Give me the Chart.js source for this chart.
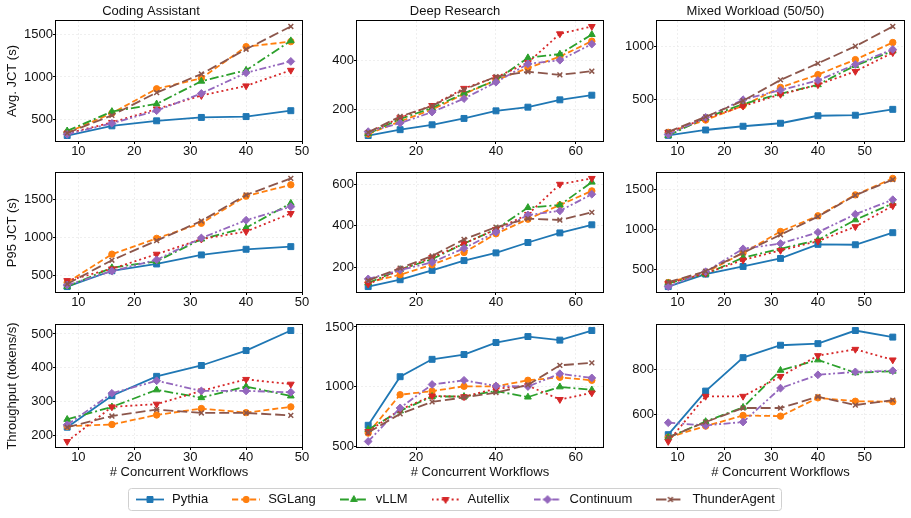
<!DOCTYPE html>
<html lang="en">
<head>
<meta charset="UTF-8">
<title>JCT and throughput vs. concurrent workflows</title>
<style>
  html, body { margin: 0; padding: 0; background: #fff; overflow: hidden; }
  body { width: 911px; height: 518px; position: relative; }
  canvas { position: absolute; display: block; }
</style>
</head>
<body>

<script src="https://cdn.jsdelivr.net/npm/chart.js"></script>
<script>
  // series, in the order they are listed in the legend
  const SERIES = ['Pythia', 'SGLang', 'vLLM', 'Autellix', 'Continuum', 'ThunderAgent'];
  const COLUMNS = ['Coding Assistant', 'Deep Research', 'Mixed Workload (50/50)'];
  const ROW_LABELS = ['Avg. JCT (s)', 'P95 JCT (s)', 'Throughput (tokens/s)'];
  const X_LABEL = '# Concurrent Workflows';

  // concurrent workflows per column
  const X_CODING = [8, 16, 24, 32, 40, 48];
  const X_DEEP = [8, 16, 24, 32, 40, 48, 56, 64];
  const X_MIXED = [8, 16, 24, 32, 40, 48, 56];

  // rows below follow SERIES order
  const AVG_CODING = [
    [305, 420, 480, 520, 530, 600],
    [340, 570, 860, 985, 1360, 1420],
    [360, 590, 680, 950, 1080, 1430],
    [330, 460, 620, 780, 895, 1080],
    [320, 450, 600, 805, 1050, 1185],
    [335, 545, 815, 1035, 1330, 1600]
  ];
  const AVG_DEEP = [
    [92, 116, 136, 162, 193, 208, 238, 257],
    [98, 150, 198, 262, 318, 368, 415, 478],
    [100, 160, 205, 265, 318, 410, 425, 505],
    [103, 165, 215, 285, 330, 390, 508, 538],
    [108, 143, 188, 243, 310, 385, 400, 466],
    [105, 170, 213, 280, 333, 353, 340, 355]
  ];
  const AVG_MIXED = [
    [167, 217, 252, 280, 350, 355, 410],
    [195, 310, 445, 615, 735, 875, 1035],
    [165, 330, 460, 555, 640, 820, 955],
    [195, 325, 440, 550, 640, 765, 940],
    [175, 335, 500, 590, 680, 830, 970],
    [200, 340, 490, 685, 840, 1000, 1185]
  ];
  const P95_CODING = [
    [350, 560, 650, 770, 845, 880],
    [405, 780, 990, 1190, 1550, 1700],
    [350, 600, 685, 980, 1130, 1455],
    [430, 585, 780, 980, 1080, 1320],
    [370, 555, 705, 995, 1230, 1410],
    [385, 700, 960, 1220, 1565, 1785]
  ];
  const P95_DEEP = [
    [108, 141, 186, 233, 270, 320, 366, 405],
    [128, 165, 213, 272, 362, 432, 500, 568],
    [125, 190, 240, 315, 383, 488, 500, 610],
    [120, 188, 248, 315, 383, 455, 600, 628],
    [145, 187, 225, 292, 370, 452, 472, 552],
    [137, 197, 255, 335, 394, 435, 428, 465]
  ];
  const P95_MIXED = [
    [290, 445, 540, 640, 815, 810, 960],
    [340, 465, 710, 975, 1170, 1430, 1635],
    [330, 445, 650, 760, 870, 1120, 1325],
    [330, 455, 620, 740, 855, 1035, 1295],
    [290, 475, 760, 825, 965, 1190, 1370],
    [345, 480, 710, 935, 1160, 1425, 1620]
  ];
  const THR_CODING = [
    [225, 318, 375, 407, 451, 510],
    [228, 233, 261, 280, 268, 285],
    [248, 285, 335, 312, 345, 317],
    [183, 285, 293, 332, 366, 352],
    [232, 325, 362, 332, 332, 328],
    [225, 258, 277, 267, 267, 260]
  ];
  const THR_DEEP = [
    [680, 1085, 1230, 1270, 1370, 1420, 1390, 1470],
    [615, 935, 965, 1005, 1005, 1055, 1080, 1055],
    [645, 800, 920, 920, 965, 915, 1000, 975],
    [628, 810, 925, 918, 985, 1010, 895, 950],
    [545, 825, 1020, 1055, 1008, 1003, 1110, 1075],
    [620, 775, 875, 912, 952, 1017, 1180, 1200]
  ];
  const THR_MIXED = [
    [512, 705, 853, 908, 915, 973, 944],
    [500, 550, 597, 594, 675, 660, 658],
    [500, 570, 633, 797, 843, 786, 793],
    [482, 682, 682, 770, 862, 890, 843],
    [565, 553, 568, 718, 777, 790, 795],
    [500, 568, 630, 630, 680, 643, 665]
  ];

  // tick labels
  const XT_CODING = [10, 20, 30, 40, 50];
  const XT_DEEP = [20, 40, 60];
  const XT_MIXED = [10, 20, 30, 40, 50];
  const YT_AVG = [[500, 1000, 1500], [200, 400], [500, 1000]];
  const YT_P95 = [[500, 1000, 1500], [200, 400, 600], [500, 1000, 1500]];
  const YT_THR = [[200, 300, 400, 500], [500, 1000, 1500], [600, 800]];

  // look
  const COLORS = ['#1f77b4', '#ff7f0e', '#2ca02c', '#d62728', '#9467bd', '#8c564b'];
  const DASHES = [[], [6, 3], [9, 3, 2, 3], [2, 3], [7, 2.5, 2, 2.5, 2, 2.5], [10, 4]];
  const MARKERS = [
    { style: 'rect', r: 4.2 },
    { style: 'circle', r: 3.2 },
    { style: 'triangle', r: 3.9 },
    { style: 'triangle', r: 3.9, rot: 180 },
    { style: 'rectRot', r: 3.9 },
    { style: 'crossRot', r: 3.4 }
  ];
  const FONT = '"Liberation Sans", Arial, Helvetica, sans-serif';
  const TEXT = '#111';

  // plot-area edges in the page
  const PLOT_X = [[56, 302], [357, 603], [657, 904]];
  const PLOT_Y = [[21, 141], [173, 292], [325, 447]];

  Chart.defaults.font.family = FONT;
  Chart.defaults.font.size = 13;
  Chart.defaults.color = TEXT;

  const framePlugin = {
    id: 'frame',
    afterDatasetsDraw(chart) {
      const a = chart.chartArea, ctx = chart.ctx;
      ctx.save();
      ctx.strokeStyle = '#000';
      ctx.lineWidth = 1;
      ctx.strokeRect(Math.round(a.left) - 0.5, Math.round(a.top) - 0.5,
        Math.round(a.right - a.left) + 1, Math.round(a.bottom - a.top) + 1);
      ctx.restore();
    }
  };

  function range5(values) {
    const lo = Math.min(...values), hi = Math.max(...values), m = (hi - lo) * 0.05;
    return [lo - m, hi + m];
  }

  function makePanel(row, col, xs, vals, xTicks, yTicks) {
    const [px0, px1] = PLOT_X[col], [py0, py1] = PLOT_Y[row];
    const yW = col === 0 ? 56 : 50;
    const xH = row === 2 ? 37 : 20;
    const padTop = row === 0 ? 0 : 8;
    const titleH = row === 0 ? 21 : 0;
    const padRight = 14;
    const w = yW + (px1 - px0) + padRight;
    const h = padTop + titleH + (py1 - py0) + xH;

    const cv = document.createElement('canvas');
    cv.width = w; cv.height = h;
    cv.style.left = (px0 - yW) + 'px';
    cv.style.top = (py0 - padTop - titleH) + 'px';
    document.body.appendChild(cv);

    const [xmin, xmax] = range5(xs);
    const [ymin, ymax] = range5(vals.flat());

    const grid = { color: '#ebebeb', lineWidth: 0.8, tickColor: '#000', tickLength: 3, tickWidth: 1 };

    new Chart(cv.getContext('2d'), {
      type: 'line',
      data: {
        datasets: SERIES.map((name, i) => ({
          label: name,
          data: xs.map((x, j) => ({ x: x, y: vals[i][j] })),
          borderColor: COLORS[i],
          backgroundColor: COLORS[i],
          borderWidth: 1.8,
          borderDash: DASHES[i],
          pointStyle: MARKERS[i].style,
          pointRadius: MARKERS[i].r,
          pointRotation: MARKERS[i].rot || 0,
          pointBorderWidth: MARKERS[i].style === 'crossRot' ? 1.5 : 1,
          pointBorderColor: COLORS[i],
          pointBackgroundColor: COLORS[i],
          tension: 0,
          order: SERIES.length - i
        }))
      },
      options: {
        responsive: false,
        animation: false,
        events: [],
        layout: { padding: { top: padTop, right: padRight, left: 0, bottom: 0 } },
        plugins: {
          legend: { display: false },
          tooltip: { enabled: false },
          title: {
            display: row === 0,
            text: COLUMNS[col],
            color: TEXT,
            font: { size: 13, weight: 'normal' },
            padding: { top: 4, bottom: 1.4 }
          }
        },
        scales: {
          x: {
            type: 'linear',
            min: xmin, max: xmax,
            afterBuildTicks: s => { s.ticks = xTicks.map(v => ({ value: v })); },
            afterFit: s => { s.height = xH; s.paddingLeft = 0; s.paddingRight = 0; },
            grid: grid,
            border: { display: false, dash: [2, 2] },
            ticks: { padding: 0, maxRotation: 0, autoSkip: false, color: TEXT, callback: v => String(v) },
            title: {
              display: row === 2,
              text: X_LABEL,
              color: TEXT,
              font: { size: 13 },
              padding: { top: 0, bottom: 4 }
            }
          },
          y: {
            type: 'linear',
            min: ymin, max: ymax,
            afterBuildTicks: s => { s.ticks = yTicks.map(v => ({ value: v })); },
            afterFit: s => { s.width = yW; s.paddingTop = 0; s.paddingBottom = 0; },
            grid: grid,
            border: { display: false, dash: [2, 2] },
            ticks: { padding: 0, autoSkip: false, color: TEXT, callback: v => String(v) },
            title: {
              display: col === 0,
              text: ROW_LABELS[row],
              color: TEXT,
              font: { size: 13 },
              padding: { top: 5, bottom: 0 }
            }
          }
        }
      },
      plugins: [framePlugin]
    });
  }

  const XS = [X_CODING, X_DEEP, X_MIXED];
  const XT = [XT_CODING, XT_DEEP, XT_MIXED];
  const VALUES = [
    [AVG_CODING, AVG_DEEP, AVG_MIXED],
    [P95_CODING, P95_DEEP, P95_MIXED],
    [THR_CODING, THR_DEEP, THR_MIXED]
  ];
  const YT = [YT_AVG, YT_P95, YT_THR];

  for (let r = 0; r < 3; r++) {
    for (let c = 0; c < 3; c++) {
      makePanel(r, c, XS[c], VALUES[r][c], XT[c], YT[r][c]);
    }
  }

  // legend handle: line sample with the marker in the middle
  function legendHandle(i) {
    const c = document.createElement('canvas');
    c.width = 28; c.height = 13;
    const g = c.getContext('2d');
    const cx = 14, cy = 6.5, m = MARKERS[i];
    g.strokeStyle = COLORS[i];
    g.fillStyle = COLORS[i];
    g.lineWidth = 1.8;
    g.setLineDash(DASHES[i]);
    g.beginPath(); g.moveTo(0, cy); g.lineTo(28, cy); g.stroke();
    g.setLineDash([]);
    g.lineWidth = 1;
    g.beginPath();
    if (m.style === 'rect') {
      const s = m.r * Math.SQRT1_2;
      g.rect(cx - s, cy - s, 2 * s, 2 * s);
    } else if (m.style === 'circle') {
      g.arc(cx, cy, m.r, 0, Math.PI * 2);
    } else if (m.style === 'triangle') {
      const flip = m.rot ? -1 : 1;
      g.moveTo(cx, cy - flip * m.r);
      g.lineTo(cx + Math.sin(Math.PI * 2 / 3) * m.r, cy + flip * m.r / 2);
      g.lineTo(cx - Math.sin(Math.PI * 2 / 3) * m.r, cy + flip * m.r / 2);
      g.closePath();
    } else if (m.style === 'rectRot') {
      g.moveTo(cx, cy - m.r); g.lineTo(cx + m.r, cy); g.lineTo(cx, cy + m.r); g.lineTo(cx - m.r, cy);
      g.closePath();
    }
    if (m.style === 'crossRot') {
      const d = m.r * Math.SQRT1_2;
      g.lineWidth = 1.5;
      g.moveTo(cx - d, cy - d); g.lineTo(cx + d, cy + d);
      g.moveTo(cx + d, cy - d); g.lineTo(cx - d, cy + d);
      g.stroke();
    } else {
      g.fill(); g.stroke();
    }
    return c;
  }

  const handles = SERIES.map((_, i) => legendHandle(i));

  // shared legend, drawn in its own small chart
  const legendPlugin = {
    id: 'sharedLegend',
    afterDraw(chart) {
      const ctx = chart.ctx, W = chart.width, H = chart.height;
      ctx.save();
      ctx.strokeStyle = '#d0d0d0';
      ctx.lineWidth = 1;
      ctx.beginPath();
      ctx.roundRect(0.5, 0.5, W - 1, H - 1, 3);
      ctx.stroke();
      ctx.font = '13px ' + FONT;
      ctx.fillStyle = TEXT;
      ctx.textBaseline = 'middle';
      const gap = 24, textGap = 8;
      const widths = SERIES.map(s => 28 + textGap + ctx.measureText(s).width);
      const total = widths.reduce((a, b) => a + b, 0) + gap * (SERIES.length - 1);
      let x = Math.round((W - total) / 2);
      const cy = H / 2;
      SERIES.forEach((s, i) => {
        ctx.drawImage(handles[i], x, Math.round(cy - 6.5));
        ctx.fillText(s, x + 28 + textGap, cy);
        x += widths[i] + gap;
      });
      ctx.restore();
    }
  };

  const lg = document.createElement('canvas');
  lg.width = 654; lg.height = 23;
  lg.style.left = '128px';
  lg.style.top = '488px';
  document.body.appendChild(lg);

  new Chart(lg.getContext('2d'), {
    type: 'line',
    data: { labels: [], datasets: [] },
    options: {
      responsive: false,
      animation: false,
      events: [],
      scales: { x: { display: false }, y: { display: false } },
      plugins: { legend: { display: false }, tooltip: { enabled: false } }
    },
    plugins: [legendPlugin]
  });
</script>
</body>
</html>
